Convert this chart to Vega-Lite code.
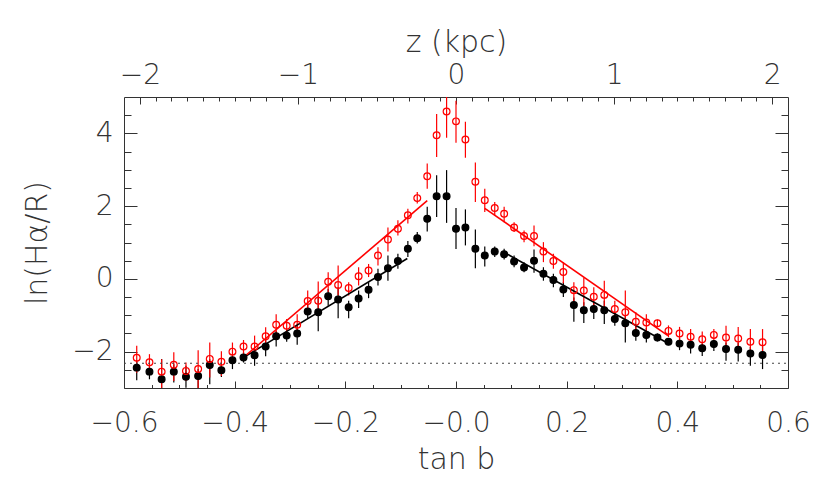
{
  "$schema": "https://vega.github.io/schema/vega-lite/v6.json",
  "width": 664,
  "height": 291,
  "autosize": {"type": "none"},
  "padding": {"left": 124, "top": 97, "right": 42, "bottom": 97},
  "background": "white",
  "datasets": {
    "pts": [
      {"b": -30, "tanb": -0.577, "series": "filled", "val": -2.44, "lo": -2.79, "hi": -2.24},
      {"b": -29, "tanb": -0.554, "series": "filled", "val": -2.55, "lo": -2.76, "hi": -2.39},
      {"b": -28, "tanb": -0.532, "series": "filled", "val": -2.76, "lo": -3.05, "hi": -2.2},
      {"b": -27, "tanb": -0.510, "series": "filled", "val": -2.55, "lo": -2.85, "hi": -2.35},
      {"b": -26, "tanb": -0.488, "series": "filled", "val": -2.69, "lo": -2.99, "hi": -2.39},
      {"b": -25, "tanb": -0.466, "series": "filled", "val": -2.67, "lo": -3.05, "hi": -2.48},
      {"b": -24, "tanb": -0.445, "series": "filled", "val": -2.37, "lo": -2.9, "hi": -2.21},
      {"b": -23, "tanb": -0.424, "series": "filled", "val": -2.51, "lo": -2.7, "hi": -2.3},
      {"b": -22, "tanb": -0.404, "series": "filled", "val": -2.24, "lo": -2.48, "hi": -2.07},
      {"b": -21, "tanb": -0.384, "series": "filled", "val": -2.16, "lo": -2.3, "hi": -2.02},
      {"b": -20, "tanb": -0.364, "series": "filled", "val": -2.1, "lo": -2.39, "hi": -1.93},
      {"b": -19, "tanb": -0.344, "series": "filled", "val": -1.86, "lo": -2.13, "hi": -1.68},
      {"b": -18, "tanb": -0.325, "series": "filled", "val": -1.58, "lo": -1.86, "hi": -1.43},
      {"b": -17, "tanb": -0.306, "series": "filled", "val": -1.56, "lo": -1.73, "hi": -1.38},
      {"b": -16, "tanb": -0.287, "series": "filled", "val": -1.5, "lo": -1.81, "hi": -1.29},
      {"b": -15, "tanb": -0.268, "series": "filled", "val": -0.9, "lo": -1.1, "hi": -0.69},
      {"b": -14, "tanb": -0.249, "series": "filled", "val": -0.92, "lo": -1.44, "hi": -0.46},
      {"b": -13, "tanb": -0.231, "series": "filled", "val": -0.48, "lo": -0.74, "hi": -0.28},
      {"b": -12, "tanb": -0.213, "series": "filled", "val": -0.57, "lo": -1.08, "hi": -0.23},
      {"b": -11, "tanb": -0.194, "series": "filled", "val": -0.78, "lo": -1.08, "hi": -0.6},
      {"b": -10, "tanb": -0.176, "series": "filled", "val": -0.54, "lo": -0.8, "hi": -0.32},
      {"b": -9, "tanb": -0.158, "series": "filled", "val": -0.3, "lo": -0.53, "hi": -0.09},
      {"b": -8, "tanb": -0.141, "series": "filled", "val": 0.05, "lo": -0.18, "hi": 0.28},
      {"b": -7, "tanb": -0.123, "series": "filled", "val": 0.29, "lo": -0.05, "hi": 0.64},
      {"b": -6, "tanb": -0.105, "series": "filled", "val": 0.49, "lo": 0.28, "hi": 0.69},
      {"b": -5, "tanb": -0.087, "series": "filled", "val": 0.83, "lo": 0.6, "hi": 1.04},
      {"b": -4, "tanb": -0.070, "series": "filled", "val": 1.12, "lo": 0.97, "hi": 1.29},
      {"b": -3, "tanb": -0.052, "series": "filled", "val": 1.65, "lo": 1.3, "hi": 1.98},
      {"b": -2, "tanb": -0.035, "series": "filled", "val": 2.27, "lo": 1.7, "hi": 2.85},
      {"b": -1, "tanb": -0.017, "series": "filled", "val": 2.27, "lo": 1.54, "hi": 2.99},
      {"b": 0, "tanb": 0.0, "series": "filled", "val": 1.38, "lo": 0.82, "hi": 1.95},
      {"b": 1, "tanb": 0.017, "series": "filled", "val": 1.41, "lo": 0.92, "hi": 1.91},
      {"b": 2, "tanb": 0.035, "series": "filled", "val": 0.83, "lo": 0.29, "hi": 1.36},
      {"b": 3, "tanb": 0.052, "series": "filled", "val": 0.64, "lo": 0.34, "hi": 0.89},
      {"b": 4, "tanb": 0.070, "series": "filled", "val": 0.75, "lo": 0.6, "hi": 0.89},
      {"b": 5, "tanb": 0.087, "series": "filled", "val": 0.68, "lo": 0.53, "hi": 0.83},
      {"b": 6, "tanb": 0.105, "series": "filled", "val": 0.48, "lo": 0.32, "hi": 0.64},
      {"b": 7, "tanb": 0.123, "series": "filled", "val": 0.31, "lo": 0.18, "hi": 0.46},
      {"b": 8, "tanb": 0.141, "series": "filled", "val": 0.5, "lo": 0.17, "hi": 0.81},
      {"b": 9, "tanb": 0.158, "series": "filled", "val": 0.14, "lo": -0.05, "hi": 0.32},
      {"b": 10, "tanb": 0.176, "series": "filled", "val": -0.03, "lo": -0.23, "hi": 0.14},
      {"b": 11, "tanb": 0.194, "series": "filled", "val": -0.29, "lo": -0.5, "hi": -0.09},
      {"b": 12, "tanb": 0.213, "series": "filled", "val": -0.72, "lo": -1.18, "hi": -0.51},
      {"b": 13, "tanb": 0.231, "series": "filled", "val": -0.86, "lo": -1.21, "hi": -0.64},
      {"b": 14, "tanb": 0.249, "series": "filled", "val": -0.83, "lo": -1.1, "hi": -0.63},
      {"b": 15, "tanb": 0.268, "series": "filled", "val": -0.86, "lo": -1.24, "hi": -0.6},
      {"b": 16, "tanb": 0.287, "series": "filled", "val": -1.1, "lo": -1.29, "hi": -0.92},
      {"b": 17, "tanb": 0.306, "series": "filled", "val": -1.22, "lo": -1.75, "hi": -1.01},
      {"b": 18, "tanb": 0.325, "series": "filled", "val": -1.49, "lo": -1.7, "hi": -1.29},
      {"b": 19, "tanb": 0.344, "series": "filled", "val": -1.54, "lo": -1.75, "hi": -1.35},
      {"b": 20, "tanb": 0.364, "series": "filled", "val": -1.61, "lo": -1.72, "hi": -1.5},
      {"b": 21, "tanb": 0.384, "series": "filled", "val": -1.73, "lo": -1.82, "hi": -1.64},
      {"b": 22, "tanb": 0.404, "series": "filled", "val": -1.78, "lo": -1.96, "hi": -1.63},
      {"b": 23, "tanb": 0.424, "series": "filled", "val": -1.81, "lo": -2.05, "hi": -1.66},
      {"b": 24, "tanb": 0.445, "series": "filled", "val": -1.91, "lo": -2.12, "hi": -1.78},
      {"b": 25, "tanb": 0.466, "series": "filled", "val": -1.79, "lo": -1.98, "hi": -1.68},
      {"b": 26, "tanb": 0.488, "series": "filled", "val": -1.93, "lo": -2.25, "hi": -1.75},
      {"b": 27, "tanb": 0.510, "series": "filled", "val": -1.95, "lo": -2.27, "hi": -1.75},
      {"b": 28, "tanb": 0.532, "series": "filled", "val": -2.05, "lo": -2.39, "hi": -1.87},
      {"b": 29, "tanb": 0.554, "series": "filled", "val": -2.09, "lo": -2.48, "hi": -1.84},
      {"b": -30, "tanb": -0.577, "series": "open", "val": -2.17, "lo": -2.58, "hi": -1.84},
      {"b": -29, "tanb": -0.554, "series": "open", "val": -2.29, "lo": -2.53, "hi": -2.07},
      {"b": -28, "tanb": -0.532, "series": "open", "val": -2.55, "lo": -3.05, "hi": -2.21},
      {"b": -27, "tanb": -0.510, "series": "open", "val": -2.36, "lo": -2.81, "hi": -2.02},
      {"b": -26, "tanb": -0.488, "series": "open", "val": -2.53, "lo": -2.81, "hi": -2.3},
      {"b": -25, "tanb": -0.466, "series": "open", "val": -2.48, "lo": -3.05, "hi": -1.96},
      {"b": -24, "tanb": -0.445, "series": "open", "val": -2.2, "lo": -2.71, "hi": -1.75},
      {"b": -23, "tanb": -0.424, "series": "open", "val": -2.28, "lo": -2.67, "hi": -1.99},
      {"b": -22, "tanb": -0.404, "series": "open", "val": -2.0, "lo": -2.25, "hi": -1.75},
      {"b": -21, "tanb": -0.384, "series": "open", "val": -1.86, "lo": -2.07, "hi": -1.68},
      {"b": -20, "tanb": -0.364, "series": "open", "val": -1.86, "lo": -2.16, "hi": -1.56},
      {"b": -19, "tanb": -0.344, "series": "open", "val": -1.58, "lo": -1.84, "hi": -1.33},
      {"b": -18, "tanb": -0.325, "series": "open", "val": -1.26, "lo": -1.56, "hi": -0.97},
      {"b": -17, "tanb": -0.306, "series": "open", "val": -1.29, "lo": -1.47, "hi": -1.1},
      {"b": -16, "tanb": -0.287, "series": "open", "val": -1.26, "lo": -1.56, "hi": -0.97},
      {"b": -15, "tanb": -0.268, "series": "open", "val": -0.61, "lo": -0.97, "hi": -0.32},
      {"b": -14, "tanb": -0.249, "series": "open", "val": -0.6, "lo": -0.92, "hi": -0.07},
      {"b": -13, "tanb": -0.231, "series": "open", "val": -0.08, "lo": -0.37, "hi": 0.18},
      {"b": -12, "tanb": -0.213, "series": "open", "val": -0.17, "lo": -0.46, "hi": 0.37},
      {"b": -11, "tanb": -0.194, "series": "open", "val": -0.25, "lo": -0.46, "hi": -0.09},
      {"b": -10, "tanb": -0.176, "series": "open", "val": 0.07, "lo": -0.18, "hi": 0.32},
      {"b": -9, "tanb": -0.158, "series": "open", "val": 0.23, "lo": 0.05, "hi": 0.41},
      {"b": -8, "tanb": -0.141, "series": "open", "val": 0.64, "lo": 0.37, "hi": 0.87},
      {"b": -7, "tanb": -0.123, "series": "open", "val": 1.08, "lo": 0.75, "hi": 1.41},
      {"b": -6, "tanb": -0.105, "series": "open", "val": 1.38, "lo": 1.19, "hi": 1.61},
      {"b": -5, "tanb": -0.087, "series": "open", "val": 1.75, "lo": 1.52, "hi": 1.93},
      {"b": -4, "tanb": -0.070, "series": "open", "val": 2.22, "lo": 2.07, "hi": 2.39},
      {"b": -3, "tanb": -0.052, "series": "open", "val": 2.82, "lo": 2.48, "hi": 3.17},
      {"b": -2, "tanb": -0.035, "series": "open", "val": 3.95, "lo": 3.35, "hi": 4.53},
      {"b": -1, "tanb": -0.017, "series": "open", "val": 4.6, "lo": 3.88, "hi": 5.1},
      {"b": 0, "tanb": 0.0, "series": "open", "val": 4.33, "lo": 3.74, "hi": 4.9},
      {"b": 1, "tanb": 0.017, "series": "open", "val": 3.83, "lo": 3.33, "hi": 4.32},
      {"b": 2, "tanb": 0.035, "series": "open", "val": 2.67, "lo": 2.11, "hi": 3.2},
      {"b": 3, "tanb": 0.052, "series": "open", "val": 2.16, "lo": 1.84, "hi": 2.48},
      {"b": 4, "tanb": 0.070, "series": "open", "val": 1.95, "lo": 1.75, "hi": 2.11},
      {"b": 5, "tanb": 0.087, "series": "open", "val": 1.79, "lo": 1.56, "hi": 1.98},
      {"b": 6, "tanb": 0.105, "series": "open", "val": 1.41, "lo": 1.29, "hi": 1.56},
      {"b": 7, "tanb": 0.123, "series": "open", "val": 1.18, "lo": 1.01, "hi": 1.33},
      {"b": 8, "tanb": 0.141, "series": "open", "val": 1.18, "lo": 0.9, "hi": 1.47},
      {"b": 9, "tanb": 0.158, "series": "open", "val": 0.75, "lo": 0.46, "hi": 1.01},
      {"b": 10, "tanb": 0.176, "series": "open", "val": 0.49, "lo": 0.28, "hi": 0.69},
      {"b": 11, "tanb": 0.194, "series": "open", "val": 0.19, "lo": -0.12, "hi": 0.46},
      {"b": 12, "tanb": 0.213, "series": "open", "val": -0.31, "lo": -0.64, "hi": -0.09},
      {"b": 13, "tanb": 0.231, "series": "open", "val": -0.32, "lo": -0.74, "hi": 0.03},
      {"b": 14, "tanb": 0.249, "series": "open", "val": -0.49, "lo": -0.78, "hi": -0.23},
      {"b": 15, "tanb": 0.268, "series": "open", "val": -0.44, "lo": -0.83, "hi": -0.05},
      {"b": 16, "tanb": 0.287, "series": "open", "val": -0.83, "lo": -1.06, "hi": -0.6},
      {"b": 17, "tanb": 0.306, "series": "open", "val": -0.92, "lo": -1.33, "hi": -0.32},
      {"b": 18, "tanb": 0.325, "series": "open", "val": -1.18, "lo": -1.43, "hi": -0.92},
      {"b": 19, "tanb": 0.344, "series": "open", "val": -1.2, "lo": -1.47, "hi": -0.97},
      {"b": 20, "tanb": 0.364, "series": "open", "val": -1.22, "lo": -1.33, "hi": -1.12},
      {"b": 21, "tanb": 0.384, "series": "open", "val": -1.43, "lo": -1.6, "hi": -1.28},
      {"b": 22, "tanb": 0.404, "series": "open", "val": -1.5, "lo": -1.75, "hi": -1.32},
      {"b": 23, "tanb": 0.424, "series": "open", "val": -1.59, "lo": -1.84, "hi": -1.38},
      {"b": 24, "tanb": 0.445, "series": "open", "val": -1.66, "lo": -1.89, "hi": -1.45},
      {"b": 25, "tanb": 0.466, "series": "open", "val": -1.54, "lo": -1.7, "hi": -1.38},
      {"b": 26, "tanb": 0.488, "series": "open", "val": -1.61, "lo": -1.93, "hi": -1.29},
      {"b": 27, "tanb": 0.510, "series": "open", "val": -1.64, "lo": -1.98, "hi": -1.32},
      {"b": 28, "tanb": 0.532, "series": "open", "val": -1.73, "lo": -2.07, "hi": -1.38},
      {"b": 29, "tanb": 0.554, "series": "open", "val": -1.74, "lo": -2.1, "hi": -1.38}
    ],
    "fits": [
      {"seg": "left-filled", "series": "filled", "tanb": -0.384, "val": -2.16},
      {"seg": "left-filled", "series": "filled", "tanb": -0.088, "val": 0.56},
      {"seg": "left-open", "series": "open", "tanb": -0.384, "val": -2.16},
      {"seg": "left-open", "series": "open", "tanb": -0.052, "val": 2.15},
      {"seg": "right-filled", "series": "filled", "tanb": 0.088, "val": 0.72},
      {"seg": "right-filled", "series": "filled", "tanb": 0.383, "val": -1.77},
      {"seg": "right-open", "series": "open", "tanb": 0.052, "val": 1.94},
      {"seg": "right-open", "series": "open", "tanb": 0.383, "val": -1.56}
    ],
    "floor": [
      {"x0": -0.6, "x1": 0.6, "level": -2.32}
    ]
  },
  "resolve": {
    "scale": {"x": "independent", "y": "independent"},
    "axis": {"x": "independent", "y": "independent"}
  },
  "layer": [
    {
      "data": {"name": "pts"},
      "mark": {"type": "rule", "strokeWidth": 1.2, "clip": true},
      "encoding": {
        "x": {
          "field": "tanb", "type": "quantitative",
          "scale": {"domain": [-0.6, 0.6], "nice": false, "zero": false},
          "axis": {
            "orient": "bottom",
            "values": [-0.6, -0.4, -0.2, 0, 0.2, 0.4, 0.6],
            "labelExpr": "datum.value == 0 ? '−0.0' : replace(format(datum.value, '.1f'), '-', '−')",
            "tickSize": -7, "labelPadding": 50, "labelBaseline": "alphabetic",
            "title": "tan b", "titleY": 80, "titleBaseline": "alphabetic"
          }
        },
        "y": {
          "field": "lo", "type": "quantitative",
          "scale": {"domain": [-3, 5], "nice": false, "zero": false},
          "axis": {
            "orient": "left",
            "values": [-2, 0, 2, 4],
            "labelExpr": "replace(format(datum.value, 'd'), '-', '−')",
            "tickSize": -13, "labelPadding": 24,
            "title": "ln(Hα/R)", "titleX": -78, "titleY": 145.5, "titleAngle": -90,
            "titleAlign": "center", "titleBaseline": "alphabetic"
          }
        },
        "y2": {"field": "hi"},
        "color": {
          "field": "series", "type": "nominal",
          "scale": {"domain": ["filled", "open"], "range": ["#000000", "#ff0000"]},
          "legend": null
        }
      }
    },
    {
      "data": {"name": "floor"},
      "mark": {"type": "rule", "strokeDash": [2, 4], "strokeWidth": 1, "color": "#444444"},
      "encoding": {
        "x": {
          "field": "x0", "type": "quantitative",
          "scale": {"domain": [-0.6, 0.6], "nice": false, "zero": false},
          "axis": {
            "orient": "bottom",
            "values": [-0.55, -0.5, -0.45, -0.35, -0.3, -0.25, -0.15, -0.1, -0.05, 0.05, 0.1, 0.15, 0.25, 0.3, 0.35, 0.45, 0.5, 0.55],
            "labels": false, "domain": false, "tickSize": -3.5, "title": null
          }
        },
        "x2": {"field": "x1"},
        "y": {
          "field": "level", "type": "quantitative",
          "scale": {"domain": [-3, 5], "nice": false, "zero": false},
          "axis": {
            "orient": "left",
            "values": [-2.5, -1.5, -1, -0.5, 0.5, 1, 1.5, 2.5, 3, 3.5, 4.5],
            "labels": false, "domain": false, "tickSize": -7, "title": null
          }
        }
      }
    },
    {
      "data": {"name": "fits"},
      "mark": {"type": "line", "strokeWidth": 1.6, "clip": true},
      "encoding": {
        "x": {
          "field": "tanb", "type": "quantitative",
          "scale": {"domain": [-0.6, 0.6], "nice": false, "zero": false},
          "axis": {
            "orient": "top",
            "values": [-0.571429, -0.285714, 0, 0.285714, 0.571429],
            "labelExpr": "replace(format(round(datum.value * 3.5), 'd'), '-', '−')",
            "tickSize": -7, "labelPadding": 21, "labelBaseline": "alphabetic",
            "title": "z (kpc)", "titleY": -46, "titleBaseline": "alphabetic"
          }
        },
        "y": {
          "field": "val", "type": "quantitative",
          "scale": {"domain": [-3, 5], "nice": false, "zero": false},
          "axis": {
            "orient": "right",
            "values": [-2, 0, 2, 4],
            "labels": false, "tickSize": -13, "title": null
          }
        },
        "detail": {"field": "seg", "type": "nominal"},
        "color": {
          "field": "series", "type": "nominal",
          "scale": {"domain": ["filled", "open"], "range": ["#000000", "#ff0000"]},
          "legend": null
        }
      }
    },
    {
      "data": {"name": "pts"},
      "mark": {"type": "point", "shape": "circle", "size": 46, "strokeWidth": 1.2, "opacity": 1, "clip": true},
      "encoding": {
        "x": {
          "field": "tanb", "type": "quantitative",
          "scale": {"domain": [-0.6, 0.6], "nice": false, "zero": false},
          "axis": {
            "orient": "top",
            "values": [-0.542857, -0.514286, -0.485714, -0.457143, -0.428571, -0.4, -0.371429, -0.342857, -0.314286, -0.257143, -0.228571, -0.2, -0.171429, -0.142857, -0.114286, -0.085714, -0.057143, -0.028571, 0.028571, 0.057143, 0.085714, 0.114286, 0.142857, 0.171429, 0.2, 0.228571, 0.257143, 0.314286, 0.342857, 0.371429, 0.4, 0.428571, 0.457143, 0.485714, 0.514286, 0.542857],
            "labels": false, "domain": false, "tickSize": -4, "title": null
          }
        },
        "y": {
          "field": "val", "type": "quantitative",
          "scale": {"domain": [-3, 5], "nice": false, "zero": false},
          "axis": {
            "orient": "right",
            "values": [-2.5, -1.5, -1, -0.5, 0.5, 1, 1.5, 2.5, 3, 3.5, 4.5],
            "labels": false, "domain": false, "tickSize": -7, "title": null
          }
        },
        "stroke": {
          "field": "series", "type": "nominal",
          "scale": {"domain": ["filled", "open"], "range": ["#000000", "#ff0000"]},
          "legend": null
        },
        "fill": {
          "field": "series", "type": "nominal",
          "scale": {"domain": ["filled", "open"], "range": ["#000000", "transparent"]},
          "legend": null
        }
      }
    }
  ],
  "config": {
    "view": {"stroke": null},
    "axis": {
      "grid": false,
      "labelFlush": false,
      "labelOverlap": false,
      "labelBound": false,
      "domainColor": "#333333",
      "domainWidth": 1,
      "tickColor": "#333333",
      "tickWidth": 1,
      "labelColor": "#333333",
      "titleColor": "#333333",
      "labelFont": "DejaVu Sans",
      "titleFont": "DejaVu Sans",
      "labelFontWeight": 200,
      "titleFontWeight": 200,
      "labelFontSize": 28,
      "titleFontSize": 30
    }
  }
}
